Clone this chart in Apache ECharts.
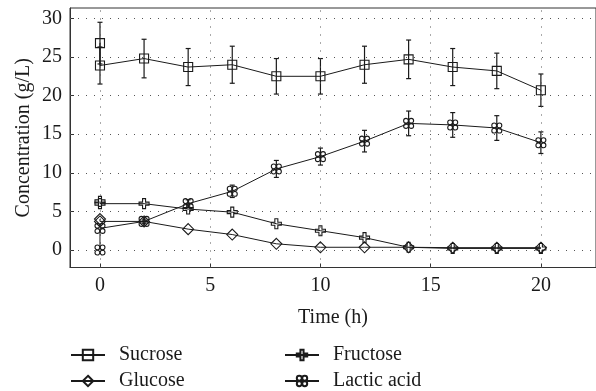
<!DOCTYPE html>
<html>
<head>
<meta charset="utf-8">
<script src="https://cdn.jsdelivr.net/npm/echarts@6/dist/echarts.min.js"></script>
<style>html,body{margin:0;padding:0;background:#fff}#c{width:596px;height:391px}</style>
</head>
<body>
<div id="c"></div>
<script>
// ---- data ----
var timeH = [0, 2, 4, 6, 8, 10, 12, 14, 16, 18, 20];
var sucrose = [23.9, 24.8, 23.7, 24.0, 22.5, 22.5, 24.0, 24.7, 23.7, 23.2, 20.7];
var sucroseErr = [2.4, 2.5, 2.4, 2.4, 2.3, 2.3, 2.4, 2.5, 2.4, 2.3, 2.1];
var sucroseInitial = 26.8, sucroseInitialErr = 2.7;
var fructose = [6.0, 6.0, 5.3, 4.9, 3.4, 2.5, 1.6, 0.35, 0.2, 0.2, 0.2];
var fructoseInitial = 6.3;
var glucose = [3.7, 3.7, 2.7, 2.0, 0.8, 0.35, 0.35, 0.35, 0.3, 0.3, 0.3];
var glucoseInitial = 4.0;
var lactic = [2.8, 3.7, 6.0, 7.6, 10.5, 12.1, 14.1, 16.4, 16.2, 15.8, 13.9];
var lacticErr = [0, 0.3, 0.5, 0.8, 1.1, 1.1, 1.4, 1.6, 1.6, 1.6, 1.4];
var lacticInitial = 0;
var xTicks = [0, 5, 10, 15, 20];
var yTicks = [0, 5, 10, 15, 20, 25, 30];

// ---- helpers ----
function pts(initial, vals) {
  return [[0, initial]].concat(timeH.map(function (t, i) { return [t, vals[i]]; }));
}
function errs(vals, e) {
  return timeH.map(function (t, i) { return [t, vals[i] - e[i], vals[i] + e[i]]; })
    .filter(function (d) { return d[2] > d[1]; });
}
var FONT = 'Liberation Serif';
var FS = 20;
var black = '#1a1a1a';
var plusPath = 'path://M35,0 H65 V35 H100 V65 H65 V100 H35 V65 H0 V35 H35 Z';
var cloverPath = 'path://M48,27 A21,21 0 1,1 6,27 A21,21 0 1,1 48,27 Z M94,27 A21,21 0 1,1 52,27 A21,21 0 1,1 94,27 Z M48,73 A21,21 0 1,1 6,73 A21,21 0 1,1 48,73 Z M94,73 A21,21 0 1,1 52,73 A21,21 0 1,1 94,73 Z';

function lineSeries(name, data, symbol, size) {
  return {
    name: name, type: 'line', data: data, symbol: symbol, symbolSize: size,
    showAllSymbol: true, z: 5,
    lineStyle: { color: black, width: 1 },
    itemStyle: { color: 'rgba(255,255,255,0)', borderColor: black, borderWidth: 1.1 },
    emphasis: { disabled: true }, animation: false
  };
}
function errSeries(data) {
  return {
    type: 'custom', data: data, z: 4, silent: true, animation: false,
    encode: { x: 0, y: [1, 2] },
    renderItem: function (params, api) {
      var x = api.value(0);
      var lo = api.coord([x, api.value(1)]);
      var hi = api.coord([x, api.value(2)]);
      var st = { stroke: black, lineWidth: 1.2 };
      return { type: 'group', children: [
        { type: 'line', shape: { x1: lo[0], y1: lo[1], x2: hi[0], y2: hi[1] }, style: st },
        { type: 'line', shape: { x1: lo[0] - 2.5, y1: lo[1], x2: lo[0] + 2.5, y2: lo[1] }, style: st },
        { type: 'line', shape: { x1: hi[0] - 2.5, y1: hi[1], x2: hi[0] + 2.5, y2: hi[1] }, style: st }
      ] };
    }
  };
}

var sucErr = errs(sucrose, sucroseErr);
sucErr.unshift([0, sucroseInitial - sucroseInitialErr, sucroseInitial + sucroseInitialErr]);

function legendAt(name, left, top) {
  return {
    data: [name], left: left, top: top, orient: 'horizontal',
    itemWidth: 34, itemHeight: 13, itemGap: 0,
    textStyle: { fontFamily: FONT, fontSize: FS, color: black, padding: [0, 0, 0, 9] },
    selectedMode: false, padding: 0
  };
}

var option = {
  animation: false,
  grid: { left: 70, top: 8, right: -32, bottom: 123.5, show: true, borderColor: '#333', borderWidth: 1 },
  xAxis: {
    type: 'value', min: -1.36, max: 22.5,
    name: 'Time (h)', nameLocation: 'middle', nameGap: 40,
    nameTextStyle: { fontFamily: FONT, fontSize: FS, color: black },
    axisLine: { show: true, onZero: false, lineStyle: { color: '#333' } },
    axisTick: { show: true, inside: true, length: 4, customValues: xTicks, lineStyle: { color: '#333' } },
    axisLabel: { customValues: xTicks, fontFamily: FONT, fontSize: FS, color: black, margin: 8 },
    splitLine: { show: false }
  },
  yAxis: {
    type: 'value', min: -2.27, max: 31.35,
    name: 'Concentration (g/L)', nameLocation: 'middle', nameGap: 36, nameMoveOverlap: false,
    nameTextStyle: { fontFamily: FONT, fontSize: FS, color: black },
    axisLine: { show: true, onZero: false, lineStyle: { color: '#333' } },
    axisTick: { show: true, inside: true, length: 4, customValues: yTicks, lineStyle: { color: '#333' } },
    axisLabel: { customValues: yTicks, fontFamily: FONT, fontSize: FS, color: black, margin: 8 },
    splitLine: { show: false }
  },
  legend: [
    legendAt('Sucrose', 70, 345),
    legendAt('Glucose', 70, 371),
    legendAt('Fructose', 284, 345),
    legendAt('Lactic acid', 284, 371)
  ],
  series: [
    {
      type: 'line', data: [], silent: true, animation: false,
      markLine: {
        silent: true, symbol: 'none', label: { show: false }, animation: false,
        lineStyle: { color: '#555', width: 1, type: [1, 7] },
        data: xTicks.map(function (v) { return { xAxis: v }; })
          .concat(yTicks.map(function (v) { return { yAxis: v }; }))
      }
    },
    errSeries(sucErr),
    errSeries(errs(lactic, lacticErr)),
    lineSeries('Sucrose', pts(sucroseInitial, sucrose), 'rect', 9),
    lineSeries('Fructose', pts(fructoseInitial, fructose), plusPath, 10),
    lineSeries('Glucose', pts(glucoseInitial, glucose), 'diamond', 11),
    lineSeries('Lactic acid', pts(lacticInitial, lactic), cloverPath, 10)
  ]
};
var chart = echarts.init(document.getElementById('c'), null, { renderer: 'canvas' });
chart.setOption(option);
</script>
</body>
</html>
